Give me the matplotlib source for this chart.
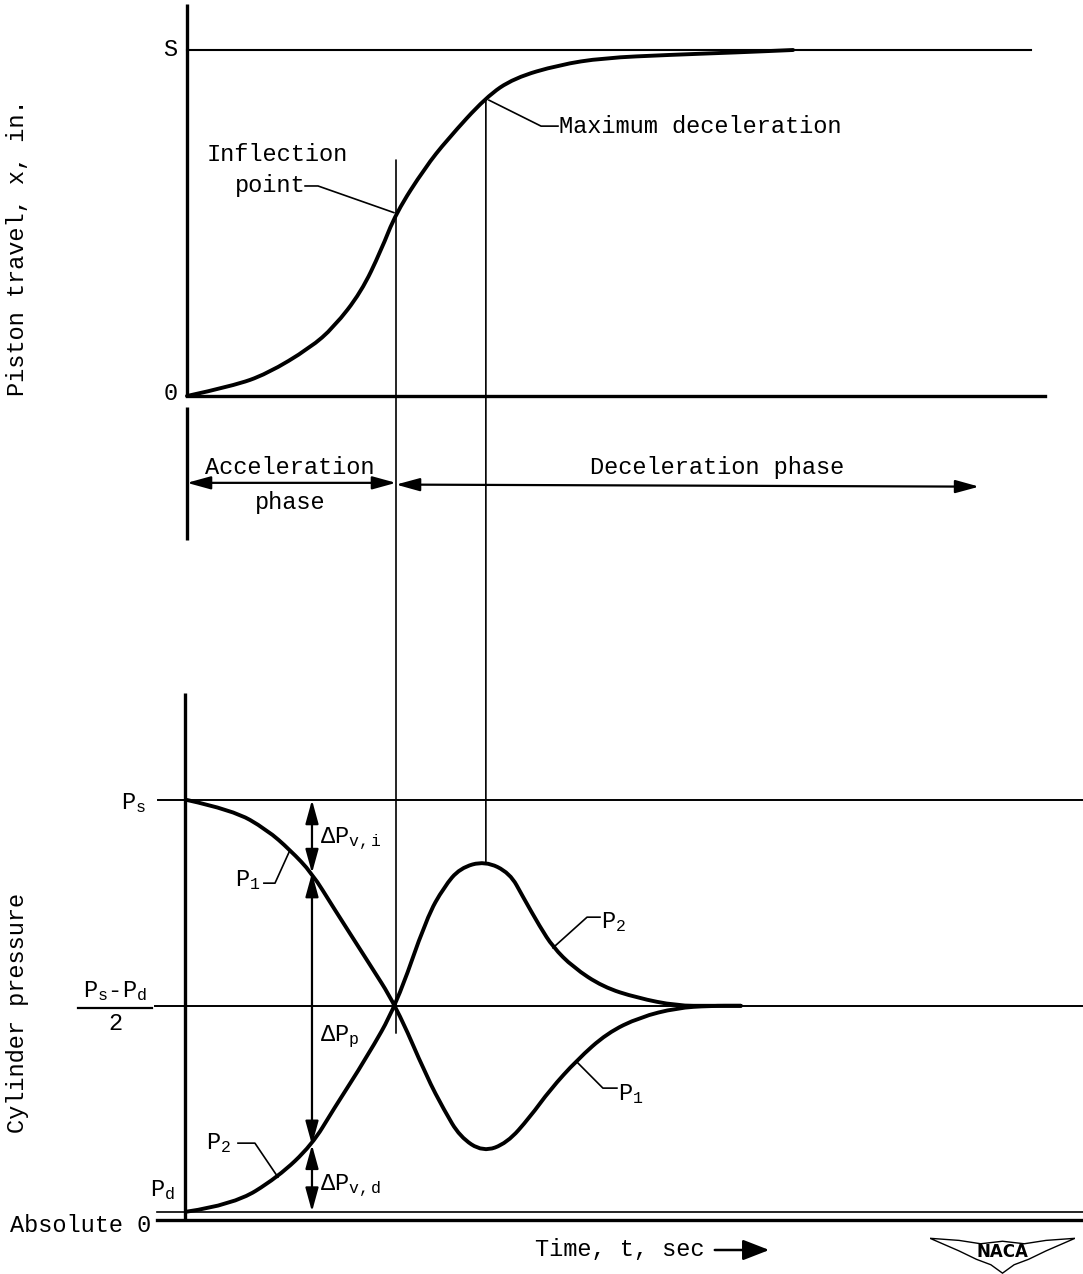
import numpy as np
import matplotlib
matplotlib.use("Agg")
import matplotlib.pyplot as plt
from matplotlib.patches import ConnectionPatch, Polygon, PathPatch, FancyArrowPatch
from matplotlib.path import Path

plt.rcParams['font.family'] = ['Liberation Mono', 'DejaVu Sans Mono']
plt.rcParams['mathtext.fontset'] = 'custom'
plt.rcParams['mathtext.rm'] = 'Liberation Mono'
plt.rcParams['mathtext.it'] = 'Liberation Mono'
plt.rcParams['mathtext.default'] = 'rm'

# piston travel curve, time in units of the inflection time, travel as x/S
travel_t = [0.0, 0.22, 0.383, 0.589, 0.703, 0.833, 0.928, 1.0, 1.139, 1.244,
            1.431, 1.565, 1.78, 1.99, 2.31, 2.63, 2.9]
travel_x = [0.0, 0.029, 0.064, 0.139, 0.199, 0.30, 0.42, 0.529, 0.66, 0.74,
            0.864, 0.919, 0.957, 0.977, 0.986, 0.993, 1.0]

# cylinder pressures, normalised so that Ps = 1 and absolute zero = 0
P_S = 1.0
P_D = 0.02
P_MID = (P_S + P_D) / 2

p1_t = [0.0, 0.22, 0.383, 0.493, 0.598, 0.699, 0.861, 1.0, 1.148, 1.23, 1.306,
        1.416, 1.531, 1.641, 1.737, 1.866, 2.01, 2.167, 2.344, 2.502, 2.65]
p1_p = [1.0, 0.976, 0.929, 0.881, 0.826, 0.745, 0.619, 0.51, 0.34, 0.262, 0.198,
        0.162, 0.183, 0.245, 0.31, 0.381, 0.445, 0.483, 0.505, 0.51, 0.51]

p2_t = [0.0, 0.22, 0.435, 0.598, 0.699, 0.861, 1.0, 1.148, 1.23, 1.306, 1.426,
        1.545, 1.608, 1.689, 1.751, 1.847, 1.99, 2.153, 2.344, 2.502, 2.65]
p2_p = [0.02, 0.036, 0.102, 0.179, 0.262, 0.388, 0.51, 0.721, 0.793, 0.838, 0.855,
        0.826, 0.769, 0.698, 0.65, 0.602, 0.555, 0.529, 0.51, 0.51, 0.51]

T_INFL = 1.0
T_MAXDEC = 1.43
T_ARROW = 0.598


def smooth_curve(ax, xs, ys, lw):
    # quadratic bezier through the midpoints of the read points
    pts = list(zip(xs, ys))
    verts = [pts[0]]
    codes = [Path.MOVETO]
    for i in range(1, len(pts) - 1):
        mid = ((pts[i][0] + pts[i + 1][0]) / 2, (pts[i][1] + pts[i + 1][1]) / 2)
        verts += [pts[i], mid]
        codes += [Path.CURVE3, Path.CURVE3]
    verts.append(pts[-1])
    codes.append(Path.LINETO)
    ax.add_patch(PathPatch(Path(verts, codes), fill=False, edgecolor='black',
                           lw=lw, joinstyle='round', capstyle='round'))


W, H = 1083, 1274
fig = plt.figure(figsize=(W / 100, H / 100), dpi=100)
fig.patch.set_facecolor('white')

# both panels share the same time scale
t_lo, t_hi = -187 / 209, (W - 187) / 209

top = fig.add_axes([0, 1 - 560 / H, 1, 560 / H])
top.set_xlim(t_lo, t_hi)
top.set_ylim((396 - 560) / 346, 396 / 346)
top.axis('off')

bot = fig.add_axes([0, 0, 1, 714 / H])
bot.set_xlim(t_lo, t_hi)
bot.set_ylim((1220 - 1274) / 420, (1220 - 560) / 420)
bot.axis('off')

FS = 17
thick = 2.4
thin = 1.2

# ---- top panel: piston travel ----
top.plot([0, 0], [0, 1.133], color='black', lw=thick, solid_capstyle='butt')
top.plot([0, 0], [-0.032, -0.416], color='black', lw=thick, solid_capstyle='butt')
top.plot([0, 4.04], [1.0, 1.0], color='black', lw=thin + 0.3)
top.plot([0, 4.105], [0, 0], color='black', lw=thick)
smooth_curve(top, travel_t, travel_x, thick + 0.4)

top.text(-0.081, 1.0, 'S', fontsize=FS, ha='center', va='center')
top.text(-0.077, 0.006, '0', fontsize=FS, ha='center', va='center')

top.text(0.431, 0.697, 'Inflection', fontsize=FS, ha='center', va='center')
top.text(0.397, 0.607, 'point', fontsize=FS, ha='center', va='center')
top.plot([0.565, 0.627, 0.99], [0.607, 0.607, 0.53], color='black', lw=thin)

top.plot([1.445, 1.694, 1.775], [0.855, 0.78, 0.78], color='black', lw=thin)
top.text(1.78, 0.78, 'Maximum deceleration', fontsize=FS, ha='left', va='center')

arrow_kw = dict(arrowstyle='<|-|>,head_length=0.8,head_width=0.22', color='black',
                lw=1.6, shrinkA=0, shrinkB=0, mutation_scale=18)
top.annotate('', xy=(0, -0.251), xytext=(T_INFL, -0.251), arrowprops=arrow_kw)
top.annotate('', xy=(T_INFL, -0.256), xytext=(3.79, -0.262), arrowprops=arrow_kw)
top.text(0.493, -0.208, 'Acceleration', fontsize=FS, ha='center', va='center')
top.text(0.493, -0.309, 'phase', fontsize=FS, ha='center', va='center')
top.text(2.536, -0.208, 'Deceleration phase', fontsize=FS, ha='center', va='center')

# ---- bottom panel: cylinder pressure ----
bot.plot([-0.01, -0.01], [0, 1.255], color='black', lw=thick, solid_capstyle='butt')
bot.plot([-0.139, t_hi], [P_S, P_S], color='black', lw=thin + 0.2)
bot.plot([-0.153, t_hi], [P_MID, P_MID], color='black', lw=thin + 0.2)
bot.plot([-0.144, t_hi], [P_D, P_D], color='black', lw=thin)
bot.plot([-0.144, t_hi], [0, 0], color='black', lw=thick)

smooth_curve(bot, p1_t, p1_p, thick + 0.4)
smooth_curve(bot, p2_t, p2_p, thick + 0.4)

p1_at = np.interp(T_ARROW, p1_t[:8], p1_p[:8])
p2_at = np.interp(T_ARROW, p2_t[:7], p2_p[:7])
for a, b in [(P_S, p1_at), (p1_at, p2_at), (p2_at, P_D)]:
    bot.annotate('', xy=(T_ARROW, a), xytext=(T_ARROW, b), arrowprops=arrow_kw)

bot.text(0.636, 0.905, r'$\Delta$P$_{\mathrm{v,i}}$', fontsize=FS, ha='left', va='center')
bot.text(0.636, 0.436, r'$\Delta$P$_{\mathrm{p}}$', fontsize=FS, ha='left', va='center')
bot.text(0.636, 0.079, r'$\Delta$P$_{\mathrm{v,d}}$', fontsize=FS, ha='left', va='center')

bot.text(-0.254, 0.993, r'P$_{\mathrm{s}}$', fontsize=FS, ha='center', va='center')
bot.text(-0.115, 0.071, r'P$_{\mathrm{d}}$', fontsize=FS, ha='center', va='center')
bot.text(-0.172, -0.012, 'Absolute 0', fontsize=FS, ha='right', va='center')

bot.text(-0.344, 0.545, r'P$_{\mathrm{s}}$-P$_{\mathrm{d}}$', fontsize=FS, ha='center', va='center')
bot.plot([-0.522, -0.167], [0.505, 0.505], color='black', lw=thin + 0.4)
bot.text(-0.344, 0.467, '2', fontsize=FS, ha='center', va='center')

# curve labels with leaders
bot.text(0.292, 0.81, r'P$_{\mathrm{1}}$', fontsize=FS, ha='center', va='center')
bot.plot([0.368, 0.421, 0.493], [0.802, 0.802, 0.881], color='black', lw=thin)
bot.text(0.153, 0.183, r'P$_{\mathrm{2}}$', fontsize=FS, ha='center', va='center')
bot.plot([0.244, 0.325, 0.435], [0.183, 0.183, 0.102], color='black', lw=thin)
bot.plot([1.751, 1.914, 1.976], [0.648, 0.721, 0.721], color='black', lw=thin)
bot.text(1.98, 0.71, r'P$_{\mathrm{2}}$', fontsize=FS, ha='left', va='center')
bot.plot([1.866, 1.99, 2.057], [0.376, 0.314, 0.314], color='black', lw=thin)
bot.text(2.06, 0.30, r'P$_{\mathrm{1}}$', fontsize=FS, ha='left', va='center')

# vertical lines joining the two panels
for (t0, y0, y1) in [(T_INFL, 0.682, 0.445),
                     (T_MAXDEC, np.interp(T_MAXDEC, travel_t, travel_x) - 0.005,
                      max(p2_p) - 0.006)]:
    con = ConnectionPatch(xyA=(t0, y0), coordsA=top.transData,
                          xyB=(t0, y1), coordsB=bot.transData,
                          color='black', lw=thin)
    fig.add_artist(con)

# axis titles
fig.text(18 / W, 1 - 248 / H, 'Piston travel, x, in.', rotation=90,
         fontsize=FS, ha='center', va='center')
fig.text(18 / W, 1 - 1013 / H, 'Cylinder pressure', rotation=90,
         fontsize=FS, ha='center', va='center')
fig.text(535 / W, 1 - 1250 / H, 'Time, t, sec', fontsize=FS, ha='left', va='center')
fig.add_artist(FancyArrowPatch(
    (712 / W, 1 - 1250 / H), (772 / W, 1 - 1250 / H), transform=fig.transFigure,
    arrowstyle='-|>,head_length=0.9,head_width=0.35', mutation_scale=18,
    color='black', lw=1.8))

# NACA wing logo
logo = fig.add_axes([930 / W, 1 - 1274 / H, 145 / W, 42 / H])
logo.set_xlim(0, 1)
logo.set_ylim(0, 1)
logo.axis('off')
wing = [(0.0, 0.85), (0.2, 0.8), (0.35, 0.72), (0.5, 0.78), (0.65, 0.72),
        (0.8, 0.8), (1.0, 0.85), (0.8, 0.55), (0.68, 0.35), (0.58, 0.22),
        (0.5, 0.02), (0.42, 0.22), (0.32, 0.35), (0.2, 0.55)]
logo.add_patch(Polygon(wing, closed=True, fill=False, edgecolor='black', lw=1.0))
logo.text(0.5, 0.52, 'NACA', fontsize=12, fontweight='bold', family='DejaVu Sans',
          ha='center', va='center')

fig.savefig('out.png', dpi=100, facecolor='white')
